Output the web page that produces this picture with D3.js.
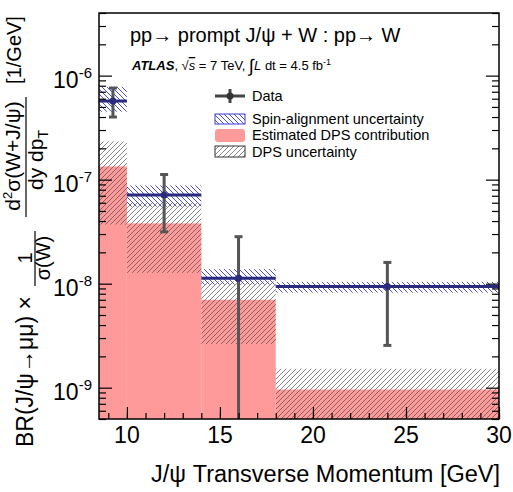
<!DOCTYPE html>
<html>
<head>
<meta charset="utf-8">
<script src="https://cdn.jsdelivr.net/npm/d3@7"></script>
<style>
body { margin: 0; background: #fff; }
text { font-family: "Liberation Sans", Arial, Helvetica, sans-serif; fill: #000; }
</style>
</head>
<body>
<div id="chart"></div>
<script>
const width = 513,
    height = 492;

const margin = { left: 99, right: 14, top: 13, bottom: 73 };

// pT bins [GeV]
const binLow = [8.5, 10, 14, 18];
const binHigh = [10, 14, 18, 30];
const binCenter = [9.25, 12, 16, 24];

// measured ratio and its error bar
const dataValue = [5.7e-7, 7.1e-8, 1.13e-8, 9.4e-9];
const dataErrHigh = [7.6e-7, 1.12e-7, 2.83e-8, 1.6e-8];
const dataErrLow = [4.0e-7, 3.15e-8, 0, 2.55e-9];

// spin-alignment band
const spinHigh = [7.8e-7, 8.8e-8, 1.38e-8, 1.04e-8];
const spinLow = [4.5e-7, 5.5e-8, 9.8e-9, 8.2e-9];

// estimated DPS and its uncertainty
const dpsValue = [1.34e-7, 3.8e-8, 7.0e-9, 9.6e-10];
const dpsHigh = [2.33e-7, 6.0e-8, 1.05e-8, 1.52e-9];
const dpsLow = [3.7e-8, 1.27e-8, 2.63e-9, 3e-10];

const xMajor = [10, 15, 20, 25, 30];
const yMajor = [1e-9, 1e-8, 1e-7, 1e-6];
const yMajorExp = ["-9", "-8", "-7", "-6"];

const pink = "#ff9a9a";
const navy = "#2b2b7e";
const grey = "#555555";

const svg = d3.select("#chart")
    .append("svg")
    .attr("width", width)
    .attr("height", height);

const x = d3.scaleLinear()
    .domain([8.5, 30])
    .range([margin.left, width - margin.right]);

const y = d3.scaleLog()
    .domain([5e-10, 4e-6])
    .range([height - margin.bottom, margin.top]);

const yc = v => y(Math.max(v, 5e-10));

const defs = svg.append("defs");

// hatch fills
defs.append("pattern")
    .attr("id", "hatchGrey")
    .attr("patternUnits", "userSpaceOnUse")
    .attr("width", 5).attr("height", 5)
    .append("path")
    .attr("d", "M-1,1 l2,-2 M0,5 l5,-5 M4,6 l2,-2")
    .attr("stroke", "#444")
    .attr("stroke-width", 0.75)
    .attr("stroke-opacity", 0.85);

defs.append("pattern")
    .attr("id", "hatchBlue")
    .attr("patternUnits", "userSpaceOnUse")
    .attr("width", 5).attr("height", 5)
    .append("path")
    .attr("d", "M-1,4 l2,2 M0,0 l5,5 M4,-1 l2,2")
    .attr("stroke", "#3a3ad4")
    .attr("stroke-width", 0.9);

defs.append("clipPath")
    .attr("id", "plotClip")
    .append("rect")
    .attr("x", margin.left)
    .attr("y", margin.top)
    .attr("width", width - margin.left - margin.right)
    .attr("height", height - margin.top - margin.bottom);

const bins = d3.range(binLow.length);

const plot = svg.append("g").attr("clip-path", "url(#plotClip)");

// DPS contribution
plot.selectAll(null)
    .data(bins)
    .join("rect")
    .attr("x", i => x(binLow[i]))
    .attr("width", i => x(binHigh[i]) - x(binLow[i]))
    .attr("y", i => y(dpsValue[i]))
    .attr("height", i => y.range()[0] - y(dpsValue[i]))
    .attr("fill", pink);

// DPS uncertainty
plot.selectAll(null)
    .data(bins)
    .join("rect")
    .attr("x", i => x(binLow[i]))
    .attr("width", i => x(binHigh[i]) - x(binLow[i]))
    .attr("y", i => y(dpsHigh[i]))
    .attr("height", i => yc(dpsLow[i]) - y(dpsHigh[i]))
    .attr("fill", "url(#hatchGrey)");

// spin-alignment uncertainty
plot.selectAll(null)
    .data(bins)
    .join("rect")
    .attr("x", i => x(binLow[i]))
    .attr("width", i => x(binHigh[i]) - x(binLow[i]))
    .attr("y", i => y(spinHigh[i]))
    .attr("height", i => y(spinLow[i]) - y(spinHigh[i]))
    .attr("fill", "url(#hatchBlue)");

// data error bars
plot.selectAll(null)
    .data(bins)
    .join("line")
    .attr("x1", i => x(binCenter[i]))
    .attr("x2", i => x(binCenter[i]))
    .attr("y1", i => y(dataErrHigh[i]))
    .attr("y2", i => yc(dataErrLow[i]) + (dataErrLow[i] > 0 ? 0 : 5))
    .attr("stroke", grey)
    .attr("stroke-width", 3);

plot.selectAll(null)
    .data(bins.flatMap(i => [[i, dataErrHigh[i]], [i, dataErrLow[i]]]).filter(d => d[1] > 0))
    .join("line")
    .attr("x1", d => x(binCenter[d[0]]) - 4)
    .attr("x2", d => x(binCenter[d[0]]) + 4)
    .attr("y1", d => y(d[1]))
    .attr("y2", d => y(d[1]))
    .attr("stroke", grey)
    .attr("stroke-width", 3);

plot.selectAll(null)
    .data(bins)
    .join("line")
    .attr("x1", i => x(binLow[i]))
    .attr("x2", i => x(binHigh[i]))
    .attr("y1", i => y(dataValue[i]))
    .attr("y2", i => y(dataValue[i]))
    .attr("stroke", navy)
    .attr("stroke-width", 3);

plot.selectAll(null)
    .data(bins)
    .join("circle")
    .attr("cx", i => x(binCenter[i]))
    .attr("cy", i => y(dataValue[i]))
    .attr("r", 3.5)
    .attr("fill", navy);

// axes, ticks drawn inward
const bottom = height - margin.bottom;
const right = width - margin.right;

function cleanAxis(g) {
    g.select(".domain").remove();
    g.selectAll(".tick line").attr("stroke", "#000").attr("stroke-width", 1.2);
    g.selectAll(".tick text").remove();
}

const yMinor = [];
for (let e = -10; e <= -6; e++) {
    for (let m = 2; m <= 9; m++) {
        const v = m * Math.pow(10, e);
        if (v >= 5e-10 && v <= 4e-6) yMinor.push(v);
    }
}

svg.append("g").attr("transform", `translate(${margin.left},0)`)
    .call(d3.axisLeft(y).tickValues(yMinor).tickSize(-7)).call(cleanAxis);
svg.append("g").attr("transform", `translate(${margin.left},0)`)
    .call(d3.axisLeft(y).tickValues(yMajor).tickSize(-13)).call(cleanAxis);
svg.append("g").attr("transform", `translate(${right},0)`)
    .call(d3.axisRight(y).tickValues(yMinor).tickSize(-7)).call(cleanAxis);
svg.append("g").attr("transform", `translate(${right},0)`)
    .call(d3.axisRight(y).tickValues(yMajor).tickSize(-13)).call(cleanAxis);

svg.append("g").attr("transform", `translate(0,${bottom})`)
    .call(d3.axisBottom(x).tickValues(d3.range(9, 31)).tickSize(-6)).call(cleanAxis);
svg.append("g").attr("transform", `translate(0,${bottom})`)
    .call(d3.axisBottom(x).tickValues(xMajor).tickSize(-12)).call(cleanAxis);

svg.append("rect")
    .attr("x", margin.left)
    .attr("y", margin.top)
    .attr("width", right - margin.left)
    .attr("height", bottom - margin.top)
    .attr("fill", "none")
    .attr("stroke", "#000")
    .attr("stroke-width", 1.5);

// tick labels
svg.selectAll(null)
    .data(xMajor)
    .join("text")
    .attr("x", d => x(d))
    .attr("y", bottom + 24)
    .attr("text-anchor", "middle")
    .style("font-size", "23px")
    .text(d => d);

const yLab = svg.selectAll(null)
    .data(yMajor)
    .join("text")
    .attr("x", 92)
    .attr("y", d => y(d) + 12)
    .attr("text-anchor", "end")
    .style("font-size", "23px");
yLab.append("tspan").text("10");
yLab.append("tspan")
    .attr("dy", -10)
    .style("font-size", "15px")
    .text((d, i) => yMajorExp[i]);

// x title
svg.append("text")
    .attr("x", right + 1)
    .attr("y", 482)
    .attr("text-anchor", "end")
    .style("font-size", "23.5px")
    .text("J/ψ Transverse Momentum [GeV]");

// y title, rotated pieces
function rotText(bx, by, size, anchor) {
    return svg.append("text")
        .attr("transform", `translate(${bx},${by}) rotate(-90)`)
        .attr("text-anchor", anchor)
        .style("font-size", size + "px");
}

rotText(33, 447, 23, "start").text("BR(J/ψ→μμ) ×");
rotText(32, 258, 20, "middle").text("1");
rotText(50, 258, 20, "middle").text("σ(W)");
svg.append("line")
    .attr("x1", 35).attr("x2", 35).attr("y1", 231).attr("y2", 286)
    .attr("stroke", "#000").attr("stroke-width", 1.2);

const num = rotText(20, 156, 21, "middle");
num.append("tspan").text("d");
num.append("tspan").attr("dy", -8).style("font-size", "13px").text("2");
num.append("tspan").attr("dy", 8).text("σ(W+J/ψ)");
svg.append("line")
    .attr("x1", 26).attr("x2", 26).attr("y1", 97).attr("y2", 217)
    .attr("stroke", "#000").attr("stroke-width", 1.2);
const den = rotText(43, 160, 21, "middle");
den.append("tspan").text("dy dp");
den.append("tspan").attr("dy", 5).style("font-size", "14px").text("T");

rotText(21, 50, 20, "middle").text("[1/GeV]");

// header text
svg.append("text")
    .attr("x", 130)
    .attr("y", 42)
    .style("font-size", "20px")
    .text("pp→ prompt J/ψ + W : pp→ W");

const sub = svg.append("text")
    .attr("x", 132)
    .attr("y", 70)
    .style("font-size", "13px");
sub.append("tspan").style("font-weight", "bold").style("font-style", "italic").text("ATLAS");
sub.append("tspan").text(", √");
sub.append("tspan").style("font-style", "italic").style("text-decoration", "overline").text("s");
sub.append("tspan").text(" = 7 TeV, ");
sub.append("tspan").style("font-size", "18px").attr("dy", 2).text("∫");
sub.append("tspan").attr("dy", -2).style("font-style", "italic").text("L");
sub.append("tspan").text(" dt = 4.5 fb");
sub.append("tspan").attr("dy", -5).style("font-size", "9px").text("-1");

// legend
const legX = 215, legW = 30, legText = 252;
const legend = svg.append("g");

legend.append("line")
    .attr("x1", legX).attr("x2", legX + legW).attr("y1", 96).attr("y2", 96)
    .attr("stroke", "#444").attr("stroke-width", 3);
legend.append("line")
    .attr("x1", legX + legW / 2).attr("x2", legX + legW / 2).attr("y1", 89).attr("y2", 103)
    .attr("stroke", "#444").attr("stroke-width", 3);
legend.append("circle")
    .attr("cx", legX + legW / 2).attr("cy", 96).attr("r", 3.5).attr("fill", "#333");

legend.append("rect")
    .attr("x", legX).attr("y", 114).attr("width", legW).attr("height", 10)
    .attr("fill", "url(#hatchBlue)").attr("stroke", "#3a3ad4").attr("stroke-width", 1);
legend.append("rect")
    .attr("x", legX).attr("y", 129).attr("width", legW).attr("height", 13).attr("rx", 3)
    .attr("fill", pink);
legend.append("rect")
    .attr("x", legX).attr("y", 146).attr("width", legW).attr("height", 11)
    .attr("fill", "url(#hatchGrey)").attr("stroke", "#333").attr("stroke-width", 1);

const legLabels = ["Data", "Spin-alignment uncertainty", "Estimated DPS contribution", "DPS uncertainty"];
const legY = [101, 124, 140, 157];
legend.selectAll(null)
    .data(legLabels)
    .join("text")
    .attr("x", legText)
    .attr("y", (d, i) => legY[i])
    .style("font-size", "14.5px")
    .text(d => d);
</script>
</body>
</html>
